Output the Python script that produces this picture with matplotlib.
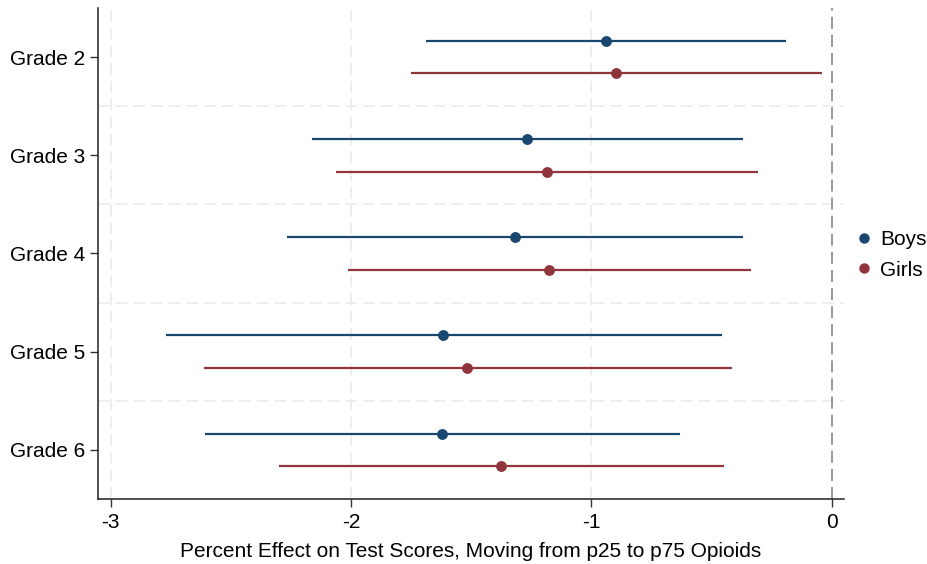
import matplotlib
matplotlib.use("Agg")
import matplotlib.pyplot as plt
from matplotlib.lines import Line2D

plt.rcParams['font.family'] = ['Liberation Sans', 'DejaVu Sans']

grades = ["Grade 2", "Grade 3", "Grade 4", "Grade 5", "Grade 6"]
grade_pos = [2, 3, 4, 5, 6]

boys_est = [-0.941, -1.267, -1.317, -1.616, -1.620]
boys_lo = [-1.690, -2.163, -2.267, -2.771, -2.608]
boys_hi = [-0.191, -0.370, -0.368, -0.458, -0.633]

girls_est = [-0.896, -1.185, -1.175, -1.516, -1.376]
girls_lo = [-1.751, -2.062, -2.012, -2.613, -2.301]
girls_hi = [-0.039, -0.308, -0.337, -0.416, -0.449]

x_ticks = [-3, -2, -1, 0]

BLUE = "#1a476f"
RED = "#90353b"
FS = 15

fig = plt.figure(figsize=(9.27, 5.64), dpi=100)
ax = fig.add_axes([97.5 / 927, 1 - 499 / 564, (844 - 97.5) / 927, (499 - 8) / 564])

offset = 0.166
for est, lo, hi, color, shift in [
    (boys_est, boys_lo, boys_hi, BLUE, -offset),
    (girls_est, girls_lo, girls_hi, RED, offset),
]:
    ys = [g + shift for g in grade_pos]
    ax.hlines(ys, lo, hi, color=color, lw=1.6, zorder=3)
    ax.plot(est, ys, 'o', color=color, ms=6.8, zorder=4)

# background grid
for xv in x_ticks[:-1]:
    ax.axvline(xv, color="#ebebeb", lw=1.2, ls=(0, (7, 3.6)), zorder=1)
for yv in [2.5, 3.5, 4.5, 5.5]:
    ax.axhline(yv, color="#ebebeb", lw=1.2, ls=(0, (7, 3.6)), zorder=1)

# reference line at zero
ax.axvline(0, color="#999999", lw=1.4, ls=(0, (6.2, 3.1)), zorder=2)

ax.set_xlim(-3.055, 0.051)
ax.set_ylim(6.5, 1.5)
ax.set_yticks(grade_pos)
ax.set_yticklabels(grades)
ax.set_xticks(x_ticks)
ax.set_xticklabels([str(v) for v in x_ticks])
ax.tick_params(axis='both', labelsize=FS, length=6, width=1, color="#333333")
ax.tick_params(axis='y', pad=3)
ax.tick_params(axis='x', pad=4)
for side in ["top", "right"]:
    ax.spines[side].set_visible(False)
for side in ["left", "bottom"]:
    ax.spines[side].set_linewidth(1.1)
    ax.spines[side].set_color("#222222")

ax.set_xlabel("Percent Effect on Test Scores, Moving from p25 to p75 Opioids",
              fontsize=FS, labelpad=7)

handles = [
    Line2D([], [], marker='o', ls='none', color=BLUE, ms=6.5, label="Boys"),
    Line2D([], [], marker='o', ls='none', color=RED, ms=6.5, label="Girls"),
]
fig.legend(handles=handles, loc='center left', bbox_to_anchor=(853.5 / 927, 1 - 255 / 564),
           frameon=False, fontsize=FS, handletextpad=0.27, labelspacing=0.55,
           handlelength=1.0, borderaxespad=0, borderpad=0)

fig.savefig("out.png", dpi=100)
